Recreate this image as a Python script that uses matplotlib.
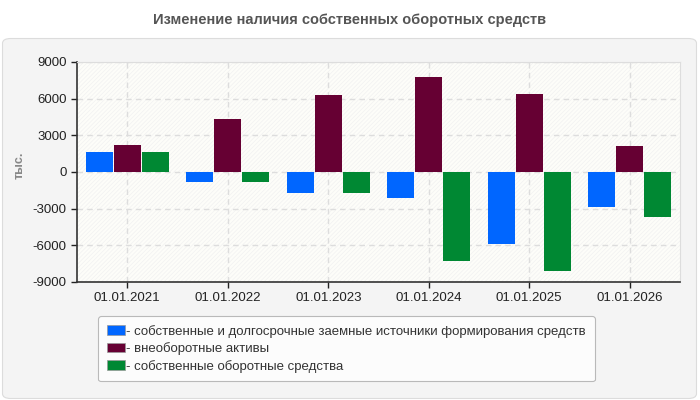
import matplotlib
matplotlib.use("Agg")
import matplotlib.pyplot as plt
import numpy as np
from matplotlib.patches import FancyBboxPatch, Rectangle

categories = ["01.01.2021", "01.01.2022", "01.01.2023", "01.01.2024", "01.01.2025", "01.01.2026"]
series_names = ["- собственные и долгосрочные заемные источники формирования средств",
                "- внеоборотные активы",
                "- собственные оборотные средства"]
own_longterm = [1640, -820, -1690, -2100, -5860, -2840]
noncurrent = [2210, 4340, 6300, 7800, 6400, 2130]
working_capital = [1640, -820, -1690, -7280, -8100, -3650]
colors = ["#0066ff", "#660033", "#008833"]
yticks = [-9000, -6000, -3000, 0, 3000, 6000, 9000]

plt.rcParams['font.family'] = ['Liberation Sans', 'DejaVu Sans']
plt.rcParams['hatch.linewidth'] = 0.5

W, H = 700, 400
fig = plt.figure(figsize=(7, 4), dpi=100)
fig.patch.set_facecolor('white')

panel = FancyBboxPatch((2.5 / W, 1.5 / H), 694 / W, 360 / H,
                       boxstyle="round,pad=0,rounding_size=0.012",
                       transform=fig.transFigure, facecolor='#f4f4f4',
                       edgecolor='#dcdcdc', linewidth=0.8, zorder=-10)
fig.patches.append(panel)

fig.text(350 / W, 1 - 20 / H, "Изменение наличия собственных оборотных средств",
         ha='center', va='center', fontsize=10.5, fontweight='bold', color='#555555')

ax = fig.add_axes([77 / W, 1 - 282 / H, 603 / W, 220 / H])
ax.set_facecolor('#fdfdf9')
ax.add_patch(Rectangle((0, 0), 1, 1, transform=ax.transAxes, facecolor='none',
                       hatch='////////', edgecolor='#f1f1f1', linewidth=0, zorder=0))

x = np.arange(len(categories))
w = 0.27
off = 0.28
data = [own_longterm, noncurrent, working_capital]
for i, (vals, c) in enumerate(zip(data, colors)):
    ax.bar(x + (i - 1) * off, vals, width=w, color=c, zorder=3, label=series_names[i])

ax.set_xlim(-0.5, len(categories) - 0.5)
ax.set_ylim(-9000, 9000)
ax.set_yticks(yticks)
ax.set_yticklabels([str(v) for v in yticks])
ax.set_xticks(x)
ax.set_xticklabels(categories)
ax.tick_params(axis='both', labelsize=9.5, colors='#222222', length=4, width=1)
ax.grid(True, axis='both', linestyle=(0, (4, 3)), color='#dddddd', linewidth=1, zorder=1)
for s in ['top', 'right']:
    ax.spines[s].set_color('#dddddd')
for s in ['left', 'bottom']:
    ax.spines[s].set_color('#333333')
    ax.spines[s].set_linewidth(1.2)

fig.text(20 / W, 1 - 165 / H, "тыс.", rotation=90, ha='center', va='center',
         fontsize=9, fontweight='bold', color='#888888')

leg = fig.legend(loc='upper left', bbox_to_anchor=(98 / W, 1 - 316 / H),
                 borderaxespad=0,
                 frameon=True, fontsize=9.5, handlelength=1.4, handleheight=0.7,
                 handletextpad=0.1, labelspacing=0.35, borderpad=0.65,
                 fancybox=True)
leg.get_frame().set_edgecolor('#aaaaaa')
leg.get_frame().set_facecolor('white')
leg.get_frame().set_linewidth(0.8)
for t in leg.get_texts():
    t.set_color('#333333')
for p in leg.get_patches():
    p.set_edgecolor('#999999')
    p.set_linewidth(0.5)

fig.savefig("out.png", dpi=100, facecolor='white')
